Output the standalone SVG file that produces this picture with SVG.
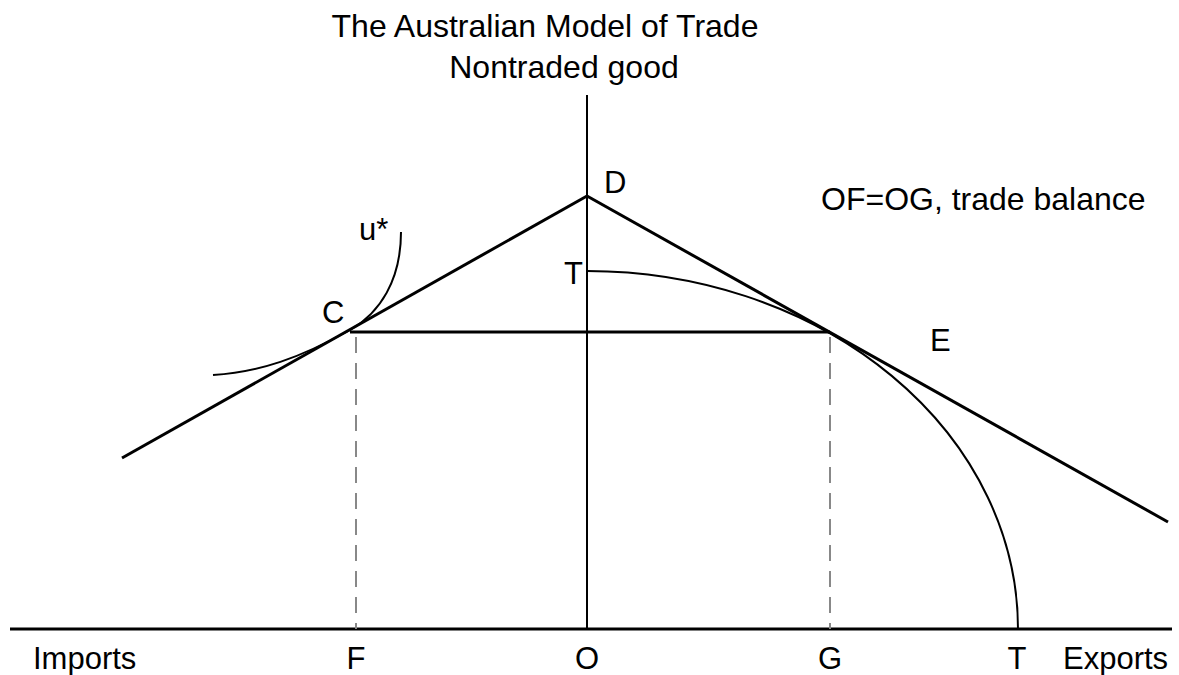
<svg xmlns="http://www.w3.org/2000/svg" width="1179" height="675" viewBox="0 0 1179 675">
<style>
text{font-family:"Liberation Sans",Arial,sans-serif;font-size:31px;fill:#000}
.big{font-size:32px}
.thick{stroke:#000;stroke-width:3;fill:none}
.thin{stroke:#000;stroke-width:2;fill:none}
.dash{stroke:#888;stroke-width:2;stroke-dasharray:16 10;fill:none}
</style>
<rect width="1179" height="675" fill="#fff"/>
<g id="connectors">
<line class="thick" x1="10" y1="629" x2="1172" y2="629"/>
<line class="thin" x1="587" y1="95" x2="587" y2="629"/>
<line class="thick" x1="122" y1="458" x2="587" y2="196"/>
<line class="thick" x1="587" y1="196" x2="1168" y2="522"/>
<line class="thick" x1="350" y1="332" x2="830" y2="332"/>
<line class="dash" x1="356" y1="337" x2="356" y2="629"/>
<line class="dash" x1="830" y1="337" x2="830" y2="629"/>
<path class="thin" d="M587,271 A431,358 0 0 1 1018,629"/>
<path class="thin" d="M213,375 C260,372 300,358 350,330 C380,313 401,280 401,232"/>
</g>
<g id="title"><text class="big" x="545" y="37" text-anchor="middle">The Australian Model of Trade</text>
<text class="big" x="564" y="78" text-anchor="middle">Nontraded good</text></g>
<g id="labels">
<text x="604" y="193">D</text>
<text x="564" y="284">T</text>
<text x="359" y="240">u*</text>
<text x="322" y="323">C</text>
<text x="930" y="351">E</text>
<text class="big" x="821" y="210">OF=OG, trade balance</text>
<text x="33" y="669">Imports</text>
<text x="356" y="669" text-anchor="middle">F</text>
<text x="587" y="669" text-anchor="middle">O</text>
<text x="830" y="669" text-anchor="middle">G</text>
<text x="1017" y="669" text-anchor="middle">T</text>
<text x="1063" y="669">Exports</text>
</g>
</svg>
